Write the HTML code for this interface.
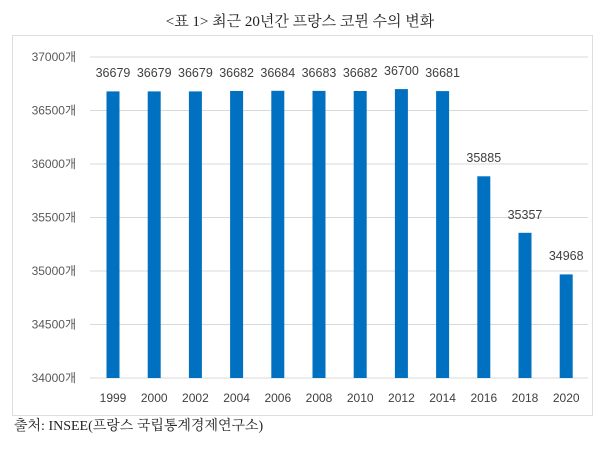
<!DOCTYPE html>
<html><head><meta charset="utf-8"><style>
body{margin:0;background:#fff;width:600px;height:444px;overflow:hidden}
</style></head><body>
<svg width="600" height="444" xmlns="http://www.w3.org/2000/svg" font-family="Liberation Sans, Noto Sans CJK KR, sans-serif">
<rect width="600" height="444" fill="#fff"/>
<text x="300" y="26" text-anchor="middle" font-size="15" font-family="Liberation Serif, Noto Serif CJK SC, serif" fill="#222">&lt;표 1&gt; 최근 20년간 프랑스 코뮌 수의 변화</text>
<rect x="12.5" y="35.5" width="580" height="380" fill="none" stroke="#ddd"/>
<g stroke="#d9d9d9" stroke-width="1">
<line x1="90" x2="588" y1="57" y2="57"/><line x1="90" x2="588" y1="110.5" y2="110.5"/>
<line x1="90" x2="588" y1="164" y2="164"/><line x1="90" x2="588" y1="217.5" y2="217.5"/>
<line x1="90" x2="588" y1="271" y2="271"/><line x1="90" x2="588" y1="324.5" y2="324.5"/>
<line x1="90" x2="588" y1="378" y2="378"/>
</g>
<g font-size="12" fill="#595959" text-anchor="end">
<text x="76" y="61">37000개</text><text x="76" y="114.5">36500개</text><text x="76" y="168">36000개</text>
<text x="76" y="221.5">35500개</text><text x="76" y="275">35000개</text><text x="76" y="328.5">34500개</text><text x="76" y="382">34000개</text>
</g>
<g fill="#0070c0">
<rect x="106.5" y="91.4" width="13" height="286.6"/>
<rect x="147.7" y="91.4" width="13" height="286.6"/>
<rect x="188.9" y="91.4" width="13" height="286.6"/>
<rect x="230.1" y="91.0" width="13" height="287.0"/>
<rect x="271.3" y="90.8" width="13" height="287.2"/>
<rect x="312.5" y="90.9" width="13" height="287.1"/>
<rect x="353.7" y="91.0" width="13" height="287.0"/>
<rect x="394.9" y="89.1" width="13" height="288.9"/>
<rect x="436.1" y="91.1" width="13" height="286.9"/>
<rect x="477.3" y="176.3" width="13" height="201.7"/>
<rect x="518.5" y="232.8" width="13" height="145.2"/>
<rect x="559.7" y="274.4" width="13" height="103.6"/>
</g>
<g font-size="12.5" fill="#404040" text-anchor="middle">
<text x="113" y="77">36679</text><text x="154.2" y="77">36679</text><text x="195.4" y="77">36679</text>
<text x="236.6" y="77">36682</text><text x="277.8" y="77">36684</text><text x="319" y="77">36683</text>
<text x="360.2" y="77">36682</text><text x="401.4" y="75">36700</text><text x="442.6" y="77">36681</text>
<text x="483.8" y="162">35885</text><text x="525" y="219">35357</text><text x="566.2" y="260">34968</text>
</g>
<g font-size="12" fill="#404040" text-anchor="middle">
<text x="113" y="402">1999</text><text x="154.2" y="402">2000</text><text x="195.4" y="402">2002</text>
<text x="236.6" y="402">2004</text><text x="277.8" y="402">2006</text><text x="319" y="402">2008</text>
<text x="360.2" y="402">2010</text><text x="401.4" y="402">2012</text><text x="442.6" y="402">2014</text>
<text x="483.8" y="402">2016</text><text x="525" y="402">2018</text><text x="566.2" y="402">2020</text>
</g>
<text x="14" y="430" font-size="14" fill="#222" font-family="Liberation Serif, Noto Serif CJK SC, serif">출처: INSEE(프랑스 국립통계경제연구소)</text>
</svg>
</body></html>
